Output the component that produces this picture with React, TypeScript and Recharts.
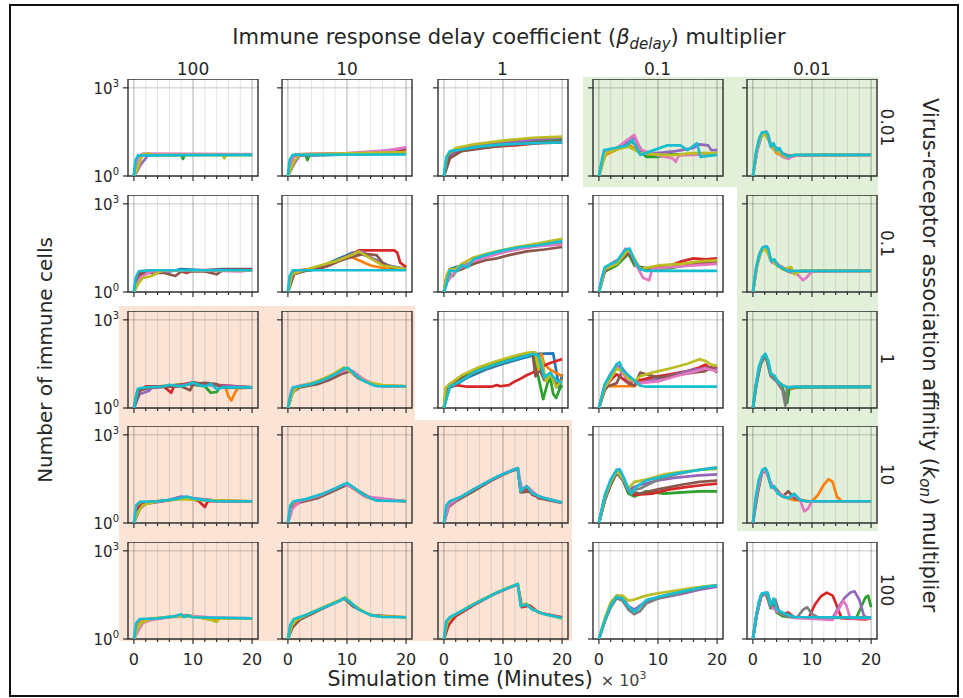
import React from 'react'
import { LineChart, Line, XAxis, YAxis, ReferenceLine, ReferenceArea } from 'recharts'

type Pt = [number, number]
type Series = { c: string; p: Pt[] }

// tab10 cycle, cyan drawn last
const COLORS: Record<string, string> = {
  blue: '#1f77b4',
  orange: '#ff7f0e',
  green: '#2ca02c',
  red: '#d62728',
  purple: '#9467bd',
  brown: '#8c564b',
  pink: '#e377c2',
  gray: '#7f7f7f',
  olive: '#bcbd22',
  cyan: '#17becf'
}

const BETA_LABELS = ['100', '10', '1', '0.1', '0.01']
const KON_LABELS = ['0.01', '0.1', '1', '10', '100']
const X_TICKS = [0, 2, 4, 6, 8, 10, 12, 14, 16, 18, 20]
const Y_TICKS = [1, 1000]

// ---- k_on 0.01 ----
const r1c1: Series[] = [
  { c: 'blue', p: [[0, 1], [0.3, 3], [0.8, 5], [3, 5.3], [20, 5.3]] },
  { c: 'green', p: [[0, 1], [0.5, 3.5], [1, 5], [8, 5.2], [8.3, 3.8], [8.6, 5.2], [20, 5.2]] },
  { c: 'purple', p: [[0, 1], [0.6, 1.5], [1, 2.2], [1.5, 3], [2, 4], [2.5, 5.5], [3.5, 5.5], [4, 5.3], [20, 5.3]] },
  { c: 'pink', p: [[0, 1], [0.4, 2.5], [0.8, 4.5], [1.5, 5.8], [18, 5.6], [20, 5.6]] },
  { c: 'olive', p: [[0, 1], [0.5, 1.6], [1, 3], [1.5, 5.5], [2.5, 5.8], [3, 5.2], [15, 5.2], [15.3, 4], [15.6, 5.2], [20, 5.2]] },
  { c: 'cyan', p: [[0, 1], [0.3, 3.5], [0.7, 5], [20, 5.2]] }
]
const r1c2: Series[] = [
  { c: 'green', p: [[0, 1], [0.5, 3.5], [1, 5], [3, 5], [3.3, 3.5], [3.6, 5], [20, 6]] },
  { c: 'red', p: [[0, 1], [0.7, 4], [1.5, 5.5], [14, 6], [18, 7.5], [20, 8]] },
  { c: 'purple', p: [[0, 1], [1, 2.5], [2, 5], [12, 5.5], [16, 7], [20, 9]] },
  { c: 'pink', p: [[0, 1], [0.6, 3], [1.2, 5.5], [10, 6], [17, 7.5], [20, 9.5]] },
  { c: 'olive', p: [[0, 1], [1, 3], [2, 5.5], [20, 6.5]] },
  { c: 'cyan', p: [[0, 1], [0.3, 3.5], [0.8, 5.2], [20, 5.4]] }
]
const r1c3: Series[] = [
  { c: 'blue', p: [[0, 1], [0.5, 4], [1.5, 7], [3, 8], [6, 10], [10, 12], [15, 14], [20, 15]] },
  { c: 'orange', p: [[0, 1], [0.8, 5], [2, 7.5], [5, 11], [10, 15], [15, 18], [20, 20]] },
  { c: 'green', p: [[0, 1], [1, 5], [2, 6], [4, 9], [8, 12], [12, 14], [16, 17], [20, 18]] },
  { c: 'red', p: [[0, 1], [0.5, 3], [1.5, 6], [4, 8], [8, 10], [12, 11], [16, 13], [20, 14]] },
  { c: 'purple', p: [[0, 1], [1, 4], [2, 7], [5, 10], [10, 13], [15, 17], [20, 20]] },
  { c: 'brown', p: [[0, 1], [1, 4], [3, 7], [7, 9], [12, 12], [20, 15]] },
  { c: 'olive', p: [[0, 1], [0.5, 5], [2, 9], [5, 12], [10, 16], [15, 20], [20, 22]] },
  { c: 'cyan', p: [[0, 1], [0.4, 4], [1, 7], [3, 8], [6, 10], [10, 12], [15, 13], [20, 14]] }
]
const r1c4: Series[] = [
  { c: 'orange', p: [[0, 1], [1, 5], [3, 8], [5, 12], [7, 6], [9, 5], [14, 5.5], [20, 5.5]] },
  { c: 'green', p: [[0, 1], [1, 6], [3, 8], [5.5, 15], [6.5, 10], [8, 4.5], [10, 4.5], [12, 5.5], [20, 5.5]] },
  { c: 'purple', p: [[0, 1], [1, 7], [3, 9], [5, 14], [6, 20], [7.5, 6], [10, 6], [13, 7], [16, 9], [17, 12], [18.5, 11], [19, 7.6], [20, 7.6]] },
  { c: 'pink', p: [[0, 1], [1, 6], [3, 9], [5, 18], [6, 25], [7, 8], [10, 5], [12.5, 4], [13, 3], [13.5, 5], [20, 5.5]] },
  { c: 'olive', p: [[0, 1], [1.2, 6], [3, 8], [5, 10], [7, 6], [12, 5], [16, 6], [20, 6]] },
  { c: 'cyan', p: [[0, 1], [0.85, 7.6], [2.5, 8.8], [4.8, 11], [5.6, 17], [7, 5.2], [9.3, 7.6], [11.5, 11], [13.8, 11], [15, 7.6], [16.6, 13], [17.2, 4.5], [20, 5.2]] }
]
const r1c5: Series[] = [
  { c: 'orange', p: [[0, 1], [0.6, 6], [1.2, 22], [2.1, 30], [3, 12], [4, 6], [5, 5], [6, 4], [7, 5], [20, 5.2]] },
  { c: 'purple', p: [[0, 1], [0.7, 7], [1.5, 25], [2.3, 32], [3, 11], [4, 9], [5, 6], [6, 5], [20, 5.2]] },
  { c: 'pink', p: [[0, 1], [0.6, 5], [1.2, 20], [2, 30], [2.6, 25], [3.2, 9], [4, 7], [5, 4.5], [6, 3.8], [6.5, 4.5], [8, 5.2], [20, 5.2]] },
  { c: 'olive', p: [[0, 1], [0.5, 5], [1.1, 18], [2, 28], [2.8, 15], [3.5, 8], [4.5, 6], [5.5, 4.5], [7, 5.2], [20, 5.2]] },
  { c: 'cyan', p: [[0, 1], [0.5, 6], [1, 17], [1.5, 30], [2.1, 32], [2.5, 28], [3, 10], [3.5, 13], [4, 7.6], [4.5, 8.8], [5, 5.9], [6, 4.5], [7, 5.2], [20, 5.2]] }
]

// ---- k_on 0.1 ----
const r2c1: Series[] = [
  { c: 'blue', p: [[0, 1], [0.5, 3.5], [1, 5], [4, 5.5], [6, 5], [8, 6], [12, 5.5], [15, 6], [20, 6]] },
  { c: 'red', p: [[0, 1], [0.7, 4], [2, 5], [7, 5.5], [9, 4.5], [10, 5.5], [20, 5.8]] },
  { c: 'brown', p: [[0, 1], [1, 3.5], [2, 4.5], [5, 4.5], [7, 3.5], [8, 5], [12, 5], [14, 4], [15, 5.5], [20, 5.5]] },
  { c: 'pink', p: [[0, 1], [1, 3], [2, 4], [3, 5], [10, 5.5], [18, 5], [20, 5.5]] },
  { c: 'olive', p: [[0, 1], [0.8, 2], [1.5, 3], [3, 3.5], [4, 4.5], [5, 5.5], [10, 5.5], [20, 5.5]] },
  { c: 'cyan', p: [[0, 1], [0.3, 3], [0.8, 5], [3, 5.5], [10, 5.5], [20, 5.5]] }
]
const r2c2: Series[] = [
  { c: 'blue', p: [[0, 1], [0.6, 4], [1.5, 5], [4, 5.5], [6, 8], [8, 12], [10, 18], [11, 22], [13, 18], [15, 12], [17, 8], [20, 6]] },
  { c: 'orange', p: [[0, 1], [0.7, 4], [2, 5.5], [5, 6.5], [8, 10], [10.5, 16], [12, 12], [14, 8], [17, 6], [20, 6]] },
  { c: 'red', p: [[0, 1], [0.8, 4], [2, 5.5], [5, 6], [7, 8], [9, 13], [11, 20], [12, 26], [15, 26], [18, 26], [18.5, 22], [19, 10], [20, 7]] },
  { c: 'purple', p: [[0, 1], [1, 4], [3, 5.5], [6, 7], [9, 12], [11, 20], [12.5, 24], [14, 15], [16, 9], [18, 7], [20, 6]] },
  { c: 'brown', p: [[0, 1], [1, 4], [2.5, 5], [6, 7], [9, 12], [11, 16], [13, 20], [15, 18], [16, 10], [18, 6], [20, 6]] },
  { c: 'olive', p: [[0, 1], [0.7, 4], [2, 5], [5, 7.5], [8, 11], [11, 19], [12, 24], [14, 14], [16, 8], [20, 6]] },
  { c: 'cyan', p: [[0, 1], [0.3, 3.5], [0.8, 5.5], [20, 5.5]] }
]
const r2c3: Series[] = [
  { c: 'blue', p: [[0, 1], [0.3, 2.5], [1, 6], [2, 7], [4, 9], [6, 14], [10, 24], [14, 33], [20, 50]] },
  { c: 'green', p: [[0, 1], [0.5, 3], [1, 4], [1.5, 3.5], [2, 5], [3, 6], [4, 8], [6, 13], [9, 21], [13, 32], [16, 40], [20, 50]] },
  { c: 'brown', p: [[0, 1], [1, 5], [3, 6], [5, 9], [7, 12], [9, 14], [11, 18], [14, 24], [17, 28], [20, 34]] },
  { c: 'pink', p: [[0, 1], [0.5, 2], [1, 3], [2, 5], [3, 7], [5, 11], [7, 15], [10, 22], [13, 30], [16, 36], [20, 42]] },
  { c: 'olive', p: [[0, 1], [0.5, 4], [1, 6], [2, 6], [3, 9], [5, 15], [8, 22], [12, 33], [16, 45], [20, 65]] },
  { c: 'cyan', p: [[0, 1], [0.3, 1.5], [1, 5.5], [2, 5], [3, 8], [4, 7], [5, 13], [7, 18], [10, 26], [13, 34], [16, 39], [20, 54]] }
]
const r2c4: Series[] = [
  { c: 'green', p: [[0, 1], [1, 5], [3, 8], [5, 20], [6, 8], [8, 6], [12, 6.5], [16, 9], [20, 10]] },
  { c: 'red', p: [[0, 1], [0.7, 4], [2, 9], [4, 15], [5, 25], [6, 12], [7, 6], [10, 7], [12, 8], [14, 11], [16, 14], [18, 13], [20, 14]] },
  { c: 'brown', p: [[0, 1], [1, 5], [2.5, 9], [4, 14], [5, 22], [6, 10], [7, 7], [9, 6], [12, 8], [15, 9], [18, 10], [20, 11]] },
  { c: 'pink', p: [[0, 1], [1, 6], [3, 10], [4.5, 30], [5.5, 20], [6.5, 7], [7.5, 3], [8.5, 2.5], [9, 6], [12, 7], [16, 8], [20, 9]] },
  { c: 'olive', p: [[0, 1], [1, 6], [3, 9], [5, 28], [6, 14], [7, 6], [10, 8], [14, 9], [17, 11], [20, 12]] },
  { c: 'cyan', p: [[0, 1], [0.5, 3], [1, 7], [2, 9], [3, 11], [4.5, 28], [5.2, 30], [6, 12], [7, 6], [8, 5.2], [20, 5.2]] }
]
const r2c5: Series[] = [
  { c: 'orange', p: [[0, 1], [0.6, 7], [1.3, 25], [2.2, 30], [3, 12], [4, 10], [5, 6], [6.5, 4.5], [8, 5.2], [20, 5.2]] },
  { c: 'purple', p: [[0, 1], [0.7, 8], [1.5, 28], [2.4, 35], [3, 13], [4, 9], [5.5, 6], [7, 5], [20, 5.2]] },
  { c: 'pink', p: [[0, 1], [0.6, 6], [1.2, 22], [2, 34], [2.6, 25], [3.2, 10], [4, 9], [5, 7], [6, 5], [7.5, 4], [8.5, 2.5], [9, 3], [10, 5], [20, 5.2]] },
  { c: 'olive', p: [[0, 1], [0.5, 5], [1.2, 20], [2, 32], [3, 14], [4, 8], [5, 6], [6.5, 7], [7, 4], [8, 5.2], [20, 5.2]] },
  { c: 'cyan', p: [[0, 1], [0.5, 6], [1, 17], [1.6, 32], [2.1, 36], [2.6, 30], [3.1, 11], [3.6, 13], [4.2, 8], [5, 6.5], [6, 5], [7, 5.2], [20, 5.2]] }
]

// ---- k_on 1 ----
const r3c1: Series[] = [
  { c: 'orange', p: [[0, 1], [0.5, 3], [1, 4.6], [5, 5.5], [10, 7], [14, 6], [15.5, 5], [16, 2.5], [16.5, 1.8], [17, 3], [17.5, 4.6], [20, 5]] },
  { c: 'green', p: [[0, 1], [0.6, 4], [2, 5], [6, 5.8], [9, 6.5], [12, 5.5], [13, 3.3], [14, 3.5], [14.5, 5], [20, 5]] },
  { c: 'red', p: [[0, 1], [0.8, 3.5], [2, 5.5], [5, 5.5], [6.3, 3.3], [6.8, 5.5], [10, 7.5], [12, 6.5], [20, 5]] },
  { c: 'purple', p: [[0, 1], [0.6, 2], [1, 3], [2.5, 3.8], [3, 4.8], [6, 5.5], [10, 6.5], [20, 5]] },
  { c: 'brown', p: [[0, 1], [1, 4], [3, 5], [8, 5.5], [9.5, 4], [10, 6.5], [12, 7.2], [14, 6.5], [15, 5], [20, 5]] },
  { c: 'cyan', p: [[0, 1], [0.7, 4.6], [2, 5], [5, 5.4], [6, 6.2], [8, 5.4], [10, 7.3], [11, 6.2], [12, 5.4], [13, 6.7], [14, 4.3], [15, 5], [20, 5]] }
]
const r3c2: Series[] = [
  { c: 'orange', p: [[0, 1], [0.5, 3], [1, 5], [3, 6], [5, 8], [7, 12], [9, 18], [10, 22], [11, 16], [13, 9], [15, 6], [20, 5.5]] },
  { c: 'brown', p: [[0, 1], [0.8, 3.5], [2, 5], [5, 6.5], [7, 9], [9, 14], [10.5, 18], [12, 10], [14, 7], [16, 5.5], [20, 5.5]] },
  { c: 'pink', p: [[0, 1], [0.6, 4], [1.5, 5.5], [4, 7], [6, 9], [8, 14], [10, 20], [11, 18], [13, 9], [15, 6], [20, 5.5]] },
  { c: 'olive', p: [[0, 1], [0.7, 3], [1.5, 5], [4, 7], [7, 12], [9.5, 24], [11, 15], [13, 8], [16, 6], [20, 5.5]] },
  { c: 'cyan', p: [[0, 1], [0.3, 2], [0.8, 5], [2, 5.5], [4, 6.5], [6, 9], [8, 14], [9.5, 22], [10.2, 23], [11, 16], [12.5, 9], [14, 6.5], [15, 5.5], [20, 5.5]] }
]
const r3c3: Series[] = [
  { c: 'blue', p: [[0, 1], [0.5, 2.5], [1, 5], [2, 6], [4, 11], [7, 20], [10, 32], [13, 48], [15, 62], [16, 70], [18.5, 72], [19, 19], [19.5, 4.5], [20, 14]] },
  { c: 'orange', p: [[0, 1], [0.6, 4], [1.2, 6], [3, 10], [6, 20], [9, 33], [12, 52], [14.5, 74], [15.5, 76], [16, 35], [16.5, 70], [17, 30], [18, 20], [20, 12]] },
  { c: 'green', p: [[0, 1], [0.4, 5], [1, 6.5], [3, 12], [6, 24], [9, 38], [12, 56], [15, 76], [16, 11], [16.8, 2], [17.5, 6.6], [18, 11], [18.5, 3], [19, 2.2], [19.5, 4], [20, 6]] },
  { c: 'red', p: [[0, 1], [0.5, 4], [1, 5.5], [2, 6], [4, 5.3], [8, 5.3], [9, 6], [9.5, 5.5], [11, 6], [12, 8], [13, 10], [14, 13], [15, 16], [16, 22], [17, 28], [18, 34], [19, 40], [20, 46]] },
  { c: 'brown', p: [[0, 1], [0.6, 4], [1, 6], [3, 10], [7, 22], [10, 35], [13, 55], [15, 72], [15.5, 12], [16.2, 20], [17, 9], [18, 14], [19, 6], [20, 10]] },
  { c: 'olive', p: [[0, 1], [0.3, 5], [1, 6.5], [3, 13], [6, 25], [9, 40], [12, 60], [14, 75], [15.5, 78], [16, 20], [16.5, 50], [17.3, 8], [18, 15], [19, 5], [20, 9]] },
  { c: 'cyan', p: [[0, 1], [0.5, 2.3], [1, 5.5], [2, 6.6], [3, 8.6], [5, 16], [8, 27], [10, 36], [13, 53], [15, 69], [16, 62], [17, 11], [18, 16], [19, 8.6], [20, 7.4]] }
]
const r3c4: Series[] = [
  { c: 'orange', p: [[0, 1], [0.8, 4], [1.5, 5.5], [5, 5.5], [6, 5.5], [7, 8], [9, 10], [12, 13], [15, 18], [18, 24], [20, 22]] },
  { c: 'red', p: [[0, 1], [1, 5], [2, 9], [3, 14], [4, 10], [5, 7], [7, 9], [9, 11], [12, 14], [15, 18], [17, 24], [18, 30], [19, 22], [20, 25]] },
  { c: 'purple', p: [[0, 1], [1, 6], [2, 15], [3, 28], [4, 22], [5, 12], [6, 8], [7, 7], [10, 10], [13, 14], [16, 20], [19, 24], [20, 20]] },
  { c: 'brown', p: [[0, 1], [1, 4], [1.5, 5.5], [3, 7], [4, 19], [5, 6.8], [6, 5.7], [7, 16], [8, 14], [10, 11], [12, 12], [15, 15], [18, 18], [19, 25], [20, 16]] },
  { c: 'pink', p: [[0, 1], [1, 6], [2, 12], [3, 26], [4, 15], [5, 9], [7, 7], [10, 8], [13, 12], [16, 17], [18, 22], [20, 18]] },
  { c: 'olive', p: [[0, 1], [1, 5], [2, 10], [3, 22], [4, 18], [5, 10], [6, 8], [7, 12], [9, 16], [12, 22], [15, 32], [17, 46], [18, 40], [19, 30], [20, 27]] },
  { c: 'cyan', p: [[0, 1], [1, 6.6], [2, 14], [3, 31], [3.5, 36], [4, 19], [5, 13], [6, 8.6], [7, 5.7], [8, 5.3], [20, 5.3]] }
]
const r3c5: Series[] = [
  { c: 'orange', p: [[0, 1], [0.6, 7], [1.3, 35], [2.2, 60], [3, 15], [4, 9], [5, 6], [6.5, 4.5], [8, 5.2], [20, 5.2]] },
  { c: 'green', p: [[0, 1], [0.6, 8], [1.4, 35], [2.2, 60], [3, 14], [4, 9], [5, 5], [5.8, 1.5], [6.2, 5], [20, 5.2]] },
  { c: 'gray', p: [[0, 1], [0.6, 6], [1.3, 30], [2.1, 65], [3, 12], [4, 8], [5, 4], [5.5, 1.2], [5.8, 5], [7, 5.2], [20, 5.2]] },
  { c: 'cyan', p: [[0, 1], [0.5, 6], [1, 25], [1.6, 55], [2.1, 70], [2.6, 40], [3.1, 14], [3.6, 13], [4.2, 8], [5, 6], [6, 5], [7, 5.2], [20, 5.2]] }
]

// ---- k_on 10 ----
const r4c1: Series[] = [
  { c: 'orange', p: [[0, 1], [0.6, 4], [1.5, 5], [5, 5.5], [8, 7], [10, 6.5], [13, 6], [20, 5.5]] },
  { c: 'red', p: [[0, 1], [0.8, 3.5], [2, 5], [6, 6], [9, 7.5], [11, 5.5], [12, 3.5], [12.5, 5.5], [20, 5.5]] },
  { c: 'purple', p: [[0, 1], [1, 3], [2, 4.5], [5, 5.5], [8, 8], [10, 7], [15, 5.5], [20, 5.5]] },
  { c: 'olive', p: [[0, 1], [0.5, 2], [1.5, 4], [4, 5.5], [8, 6.5], [12, 6], [20, 5.5]] },
  { c: 'cyan', p: [[0, 1], [0.4, 4], [1, 5.2], [4, 5.5], [7, 6.5], [9, 8], [10, 6.8], [12, 6], [14, 5.5], [20, 5.5]] }
]
const r4c2: Series[] = [
  { c: 'orange', p: [[0, 1], [0.6, 4], [1.5, 5.5], [4, 7], [7, 12], [9, 18], [10, 22], [11, 15], [13, 8], [15, 6], [20, 5.5]] },
  { c: 'brown', p: [[0, 1], [0.8, 3.5], [2, 5], [5, 7], [8, 13], [10, 20], [11.5, 14], [14, 7], [20, 5.5]] },
  { c: 'pink', p: [[0, 1], [0.7, 3], [2, 5.5], [5, 8], [8, 15], [9.5, 21], [11, 16], [13, 8], [20, 5.5]] },
  { c: 'cyan', p: [[0, 1], [0.4, 4], [1, 5.5], [3, 6.5], [6, 10], [8, 15], [10, 23], [11, 17], [12.5, 10], [14, 7], [15, 5.8], [20, 5.5]] }
]
const r4c3: Series[] = [
  { c: 'red', p: [[0, 1], [0.6, 4], [1.5, 5.5], [4, 10], [7, 22], [10, 45], [12.5, 72], [13, 12], [14, 15], [15, 9], [17, 7], [20, 5]] },
  { c: 'brown', p: [[0, 1], [0.8, 3.5], [2, 5.5], [5, 12], [8, 28], [11, 55], [12.5, 70], [13, 11], [14.5, 12], [16, 7], [20, 4.8]] },
  { c: 'pink', p: [[0, 1], [0.8, 4], [2, 6], [5, 14], [8, 30], [11, 58], [12.5, 74], [13.2, 14], [14, 18], [16, 8], [20, 5]] },
  { c: 'cyan', p: [[0, 1], [0.4, 4], [1, 5.5], [3, 8], [6, 18], [9, 38], [11, 56], [12.5, 74], [13, 12], [13.5, 15], [14, 18], [15, 10], [17, 7], [20, 5]] }
]
const r4c4: Series[] = [
  { c: 'green', p: [[0, 1], [1, 6], [2, 20], [3, 55], [4, 30], [5, 10], [6, 8], [8, 12], [11, 10], [14, 11], [17, 12], [20, 12]] },
  { c: 'red', p: [[0, 1], [1, 7], [2, 22], [3, 60], [4, 40], [5, 12], [6, 9], [9, 10], [12, 14], [15, 17], [18, 20], [20, 22]] },
  { c: 'purple', p: [[0, 1], [1, 8], [2, 28], [3, 65], [3.8, 50], [5, 14], [7, 20], [10, 28], [13, 35], [17, 42], [20, 45]] },
  { c: 'brown', p: [[0, 1], [1, 6], [2, 20], [3, 50], [4, 30], [5, 12], [7, 10], [10, 14], [14, 20], [17, 25], [20, 28]] },
  { c: 'gray', p: [[0, 1], [1, 6], [2, 24], [3, 55], [4, 30], [5, 12], [7, 15], [10, 30], [13, 45], [16, 60], [20, 78]] },
  { c: 'olive', p: [[0, 1], [1, 8], [2, 25], [3, 60], [4, 35], [5, 15], [6, 25], [8, 30], [11, 45], [14, 55], [17, 65], [20, 70]] },
  { c: 'cyan', p: [[0, 1], [1, 9], [2, 30], [3, 62], [3.5, 68], [4.2, 35], [5, 14], [5.5, 10], [6.5, 18], [8, 28], [10, 35], [13, 48], [16, 60], [18, 68], [20, 75]] }
]
const r4c5: Series[] = [
  { c: 'orange', p: [[0, 1], [0.6, 7], [1.4, 45], [2.2, 68], [3, 22], [4, 12], [5, 8], [7, 6], [10, 5.5], [11, 9], [12, 20], [12.8, 31], [13.5, 25], [14.2, 8], [15, 5.5], [20, 5.5]] },
  { c: 'brown', p: [[0, 1], [0.8, 10], [1.5, 50], [2.3, 60], [3, 20], [4, 14], [5, 8], [6, 12], [7, 7], [9, 5.5], [20, 5.5]] },
  { c: 'pink', p: [[0, 1], [0.6, 8], [1.3, 40], [2, 70], [2.8, 30], [3.5, 15], [4.5, 10], [6, 7], [7, 9], [8, 6], [8.7, 2.5], [9.3, 3], [10, 5.5], [20, 5.5]] },
  { c: 'cyan', p: [[0, 1], [0.5, 8], [1, 30], [1.6, 65], [2.1, 74], [2.6, 45], [3.1, 16], [3.6, 18], [4.2, 10], [5, 8], [6, 7], [7, 10], [8, 6], [9, 5.5], [20, 5.5]] }
]

// ---- k_on 100 ----
const r5c1: Series[] = [
  { c: 'orange', p: [[0, 1], [0.6, 3.5], [1.5, 4.5], [4, 5], [7, 6], [9, 6.5], [12, 5], [14, 4.2], [14.5, 5], [20, 5]] },
  { c: 'pink', p: [[0, 1], [0.8, 2], [1.5, 3.5], [3, 4.5], [6, 5.5], [10, 6], [13, 5.5], [20, 5]] },
  { c: 'olive', p: [[0, 1], [0.5, 2], [1.2, 3.5], [3, 5], [8, 6], [11, 5.5], [13, 4.5], [14, 3.8], [14.5, 5], [20, 5]] },
  { c: 'cyan', p: [[0, 1], [0.4, 3.5], [1, 4.8], [4, 5], [7, 6], [8, 7], [8.5, 5.5], [9, 6.5], [10, 5.5], [20, 5]] }
]
const r5c2: Series[] = [
  { c: 'brown', p: [[0, 1], [0.8, 2.5], [2, 4.5], [5, 9], [8, 17], [9.5, 24], [11, 13], [14, 6.5], [20, 5.5]] },
  { c: 'olive', p: [[0, 1], [0.7, 3], [1.5, 4.5], [4, 8], [7, 15], [9, 22], [9.8, 26], [11, 15], [13, 8], [15, 6], [20, 5.5]] },
  { c: 'cyan', p: [[0, 1], [0.4, 3], [1, 4.8], [3, 6.5], [5, 9.5], [7, 14], [9, 21], [9.5, 25], [10.5, 18], [12, 10], [14, 6.5], [16, 5.6], [20, 5.5]] }
]
const r5c3: Series[] = [
  { c: 'red', p: [[0, 1], [0.8, 3], [2, 6], [5, 14], [8, 30], [11, 55], [12.5, 72], [13.2, 12], [14.5, 14], [16, 8], [20, 5.5]] },
  { c: 'olive', p: [[0, 1], [0.6, 4], [1.5, 6], [4, 12], [7, 25], [10, 48], [12.5, 76], [13, 14], [14, 16], [15, 10], [17, 7], [20, 5]] },
  { c: 'cyan', p: [[0, 1], [0.4, 4], [1, 5.5], [3, 9], [6, 19], [9, 38], [11, 56], [12.5, 74], [13, 13], [14, 15], [15, 10], [17, 7], [20, 5.2]] }
]
const r5c4: Series[] = [
  { c: 'orange', p: [[0, 1], [1, 4], [2, 13], [3, 24], [4, 22], [5, 11], [6, 9], [7, 13], [8, 20], [10, 26], [14, 40], [18, 58], [20, 66]] },
  { c: 'purple', p: [[0, 1], [1, 4.5], [2, 14], [3, 30], [4, 26], [5, 13], [6, 10], [7, 14], [8, 19], [10, 24], [14, 34], [17, 48], [20, 60]] },
  { c: 'gray', p: [[0, 1], [1, 4], [2, 12], [3, 25], [4, 20], [5, 10], [6, 7], [7, 9], [8, 16], [10, 24], [14, 38], [18, 58], [20, 66]] },
  { c: 'olive', p: [[0, 1], [1, 5], [2, 18], [3, 30], [4, 30], [5, 20], [6, 22], [7, 26], [8, 30], [10, 36], [13, 44], [16, 55], [18, 62], [20, 68]] },
  { c: 'cyan', p: [[0, 1], [1, 4.4], [2, 14], [3, 27], [4, 24], [5, 12.6], [6, 8.5], [7, 12.6], [8, 21], [10, 27], [14, 41], [18, 60], [20, 67]] }
]
const r5c5: Series[] = [
  { c: 'green', p: [[0, 1], [0.6, 6], [1.4, 30], [2.2, 35], [3, 11], [3.5, 18], [4, 8], [5, 6], [7, 5.3], [17.5, 5.2], [18.3, 12], [19, 25], [19.5, 30], [20, 12]] },
  { c: 'red', p: [[0, 1], [0.6, 6], [1.4, 30], [2.3, 36], [3, 14], [4, 10], [5, 7], [6, 8], [7, 5.5], [9.5, 5.5], [10.5, 15], [11.5, 28], [12.5, 38], [13.5, 30], [14.3, 12], [15, 5.1], [19, 4.6], [20, 5]] },
  { c: 'purple', p: [[0, 1], [0.7, 8], [1.5, 32], [2.5, 36], [3.2, 12], [4, 10], [5, 7], [7, 5.5], [13.5, 5.2], [14.5, 12], [15.5, 25], [16.5, 38], [17.2, 42], [18, 22], [18.8, 6], [19.5, 5.3], [20, 5.3]] },
  { c: 'pink', p: [[0, 1], [0.6, 6], [1.4, 28], [2.2, 34], [3, 13], [4, 9], [5, 7], [7, 5.2], [13.5, 4.5], [14.5, 10], [15.3, 20], [15.8, 14], [16.5, 5], [20, 5]] },
  { c: 'gray', p: [[0, 1], [0.6, 7], [1.3, 28], [2.2, 38], [3, 12], [3.8, 22], [4.5, 8], [6, 6], [7.5, 5.5], [8.5, 10], [9.2, 12], [10, 7], [11, 5.5], [20, 5.5]] },
  { c: 'cyan', p: [[0, 1], [0.5, 4.9], [1, 19], [1.5, 36], [2.5, 38], [3, 14], [3.5, 24], [4, 10.5], [5, 7.9], [7, 5.6], [20, 5.3]] }
]

const PANELS: Series[][][] = [
  [r1c1, r1c2, r1c3, r1c4, r1c5],
  [r2c1, r2c2, r2c3, r2c4, r2c5],
  [r3c1, r3c2, r3c3, r3c4, r3c5],
  [r4c1, r4c2, r4c3, r4c4, r4c5],
  [r5c1, r5c2, r5c3, r5c4, r5c5]
]

// layout (px)
const COL_X = [128, 282, 437.5, 592.5, 747]
const ROW_Y = [79, 195, 310.5, 426, 541.5]
const FW = 130
const FH = 97
const YW = 44
const XH = 34
const FONT = '"DejaVu Sans", sans-serif'
const INK = '#262626'
const FRAME = '#2e2e2e'
const GREEN_BG = '#e2efd9'
const ORANGE_BG = '#fbe4d6'

const XTick = ({ x, y, payload, showLabel }: any) => {
  const major = payload.value % 10 === 0
  return (
    <g>
      <line x1={x} x2={x} y1={y} y2={y + (major ? 5 : 3)} stroke={FRAME} strokeWidth={1.2} />
      {showLabel && major && (
        <text x={x} y={y + 26} textAnchor="middle" fontSize={16} fontFamily={FONT} fill={INK}>
          {payload.value}
        </text>
      )}
    </g>
  )
}

const YTick = ({ x, y, payload, showLabel }: any) => {
  const exp = Math.round(Math.log10(payload.value))
  return (
    <g>
      <line x1={x - 5} x2={x} y1={y} y2={y} stroke={FRAME} strokeWidth={1.2} />
      {showLabel && (
        <text x={x - 9} y={y + 6} textAnchor="end" fontSize={15} fontFamily={FONT} fill={INK}>
          10<tspan dy={-7} fontSize={10}>{exp}</tspan>
        </text>
      )}
    </g>
  )
}

function Panel({ row, col, series }: { row: number; col: number; series: Series[] }) {
  return (
    <div style={{ position: 'absolute', left: COL_X[col] - YW, top: ROW_Y[row] }}>
      <LineChart width={YW + FW + 4} height={FH + XH} margin={{ top: 0, right: 4, bottom: 0, left: 0 }}>
        <XAxis
          type="number"
          dataKey="t"
          domain={[-1, 21]}
          ticks={X_TICKS}
          interval={0}
          allowDataOverflow
          height={XH}
          axisLine={false}
          tickLine={false}
          tickSize={0}
          tickMargin={0}
          tick={(p: any) => <XTick {...p} showLabel={row === 4} />}
        />
        <YAxis
          type="number"
          scale="log"
          domain={[1, 2000]}
          ticks={Y_TICKS}
          interval={0}
          allowDataOverflow
          width={YW}
          axisLine={false}
          tickLine={false}
          tickSize={0}
          tickMargin={0}
          tick={(p: any) => <YTick {...p} showLabel={col === 0} />}
        />
        {X_TICKS.map(v => (
          <ReferenceLine
            key={`g${v}`}
            x={v}
            stroke={v % 10 === 0 ? 'rgba(0,0,0,0.3)' : 'rgba(0,0,0,0.1)'}
            strokeWidth={1}
          />
        ))}
        <ReferenceLine y={1000} stroke="rgba(0,0,0,0.22)" strokeWidth={1} />
        {series.map((s, i) => (
          <Line
            key={`${s.c}${i}`}
            data={s.p.map(([t, v]) => ({ t, v }))}
            dataKey="v"
            type="linear"
            stroke={COLORS[s.c]}
            strokeWidth={2.7}
            strokeLinejoin="round"
            dot={false}
            activeDot={false}
            isAnimationActive={false}
          />
        ))}
        <ReferenceArea x1={-1} x2={21} y1={1} y2={2000} fill="none" stroke={FRAME} strokeWidth={1.4} ifOverflow="visible" />
      </LineChart>
    </div>
  )
}

const box = (left: number, top: number, width: number, height: number, bg: string) => (
  <div style={{ position: 'absolute', left, top, width, height, background: bg }} />
)

export default function App() {
  return (
    <div style={{ position: 'absolute', left: 0, top: 0, width: 963, height: 698, background: '#fff', fontFamily: FONT, overflow: 'hidden' }}>
      {/* shaded regimes */}
      {box(583, 77, 295, 110, GREEN_BG)}
      {box(737, 187, 141, 344, GREEN_BG)}
      {box(119, 306, 296, 335, ORANGE_BG)}
      {box(415, 420, 157, 221, ORANGE_BG)}

      {PANELS.map((cols, r) => cols.map((s, c) => <Panel key={`${r}-${c}`} row={r} col={c} series={s} />))}

      <svg width={963} height={698} style={{ position: 'absolute', left: 0, top: 0, pointerEvents: 'none' }}>
        <rect x={10} y={5} width={948} height={691} fill="none" stroke="#111" strokeWidth={2} />

        <text x={509} y={44} textAnchor="middle" fontSize={21} fontFamily={FONT} fill={INK}>
          Immune response delay coefficient (<tspan fontStyle="italic">β</tspan>
          <tspan dy={5} fontSize={15} fontStyle="italic">delay</tspan>
          <tspan dy={-5}>) multiplier</tspan>
        </text>

        {BETA_LABELS.map((l, c) => (
          <text key={l} x={COL_X[c] + FW / 2} y={75} textAnchor="middle" fontSize={17} fontFamily={FONT} fill={INK}>
            {l}
          </text>
        ))}

        {KON_LABELS.map((l, r) => (
          <text
            key={l}
            transform={`translate(887, ${ROW_Y[r] + FH / 2}) rotate(90)`}
            textAnchor="middle"
            dominantBaseline="central"
            fontSize={17}
            fontFamily={FONT}
            fill={INK}
          >
            {l}
          </text>
        ))}

        <text transform="translate(930, 355) rotate(90)" textAnchor="middle" dominantBaseline="central" fontSize={21} fontFamily={FONT} fill={INK}>
          Virus-receptor association affinity (<tspan fontStyle="italic">k</tspan>
          <tspan dy={5} fontSize={15} fontStyle="italic">on</tspan>
          <tspan dy={-5}>) multiplier</tspan>
        </text>

        <text transform="translate(45, 360) rotate(-90)" textAnchor="middle" dominantBaseline="central" fontSize={20} fontFamily={FONT} fill={INK}>
          Number of immune cells
        </text>

        <text x={487} y={686} textAnchor="middle" fontSize={20.5} fontFamily={FONT} fill={INK}>
          Simulation time (Minutes)
          <tspan dx={8} fontSize={16} fill="#444">× 10</tspan>
          <tspan dy={-7} fontSize={11} fill="#444">3</tspan>
        </text>
      </svg>
    </div>
  )
}
